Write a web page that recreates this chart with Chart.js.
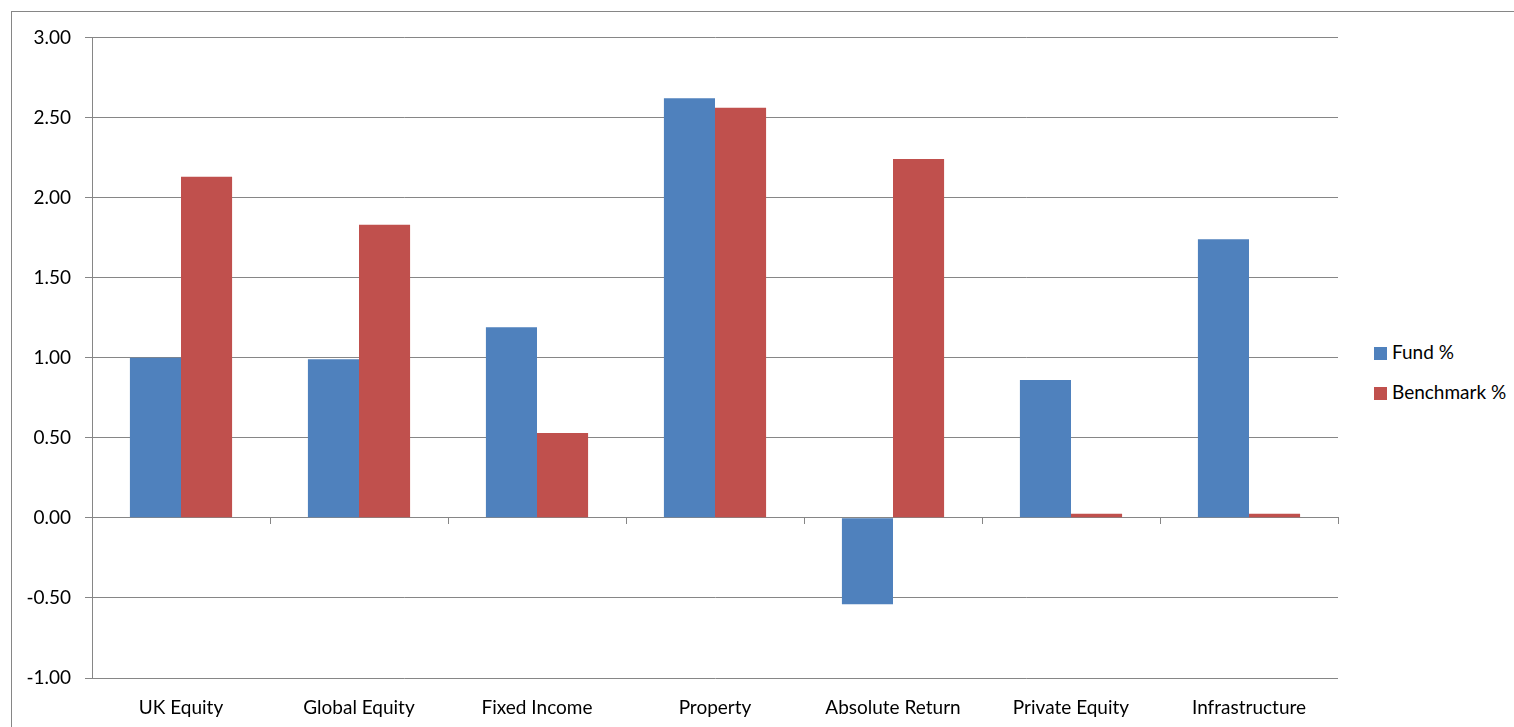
<!DOCTYPE html>
<html>
<head>
<meta charset="utf-8">
<script src="https://cdn.jsdelivr.net/npm/chart.js@4/dist/chart.umd.min.js"></script>
<style>
  html, body { margin: 0; padding: 0; background: #fff; overflow: hidden; }
  body { width: 1514px; height: 727px; position: relative; font-family: Lato, "Open Sans", sans-serif; }
  #frame {
    position: absolute; left: 11px; top: 11px; width: 1520px; height: 740px;
    border: 1px solid #868686; box-sizing: border-box;
  }
  #wrap { position: absolute; left: 12px; top: 12px; width: 1330px; height: 715px; }
  #legend { position: absolute; left: 1374px; top: 339px; font-size: 19px; color: #000; }
  .item { height: 26px; line-height: 26px; margin-bottom: 13.5px; white-space: nowrap; }
  .swatch { display: inline-block; width: 13px; height: 13px; margin-right: 5px; vertical-align: -1px; }
</style>
</head>
<body>
<div id="frame"></div>
<div id="wrap"><canvas id="chart"></canvas></div>
<div id="legend"></div>
<script>
const categories = ["UK Equity", "Global Equity", "Fixed Income", "Property", "Absolute Return", "Private Equity", "Infrastructure"];
const fundValues = [1.00, 0.99, 1.19, 2.62, -0.54, 0.86, 1.74];
const benchmarkValues = [2.13, 1.83, 0.53, 2.56, 2.24, 0.025, 0.025];
const seriesNames = ["Fund %", "Benchmark %"];
const seriesColors = ["#4F81BD", "#C0504D"];

const GRID = "#868686";
const FONT = { family: "Lato, 'Open Sans', sans-serif", size: 19 };

const datasets = [fundValues, benchmarkValues].map((vals, i) => ({
  label: seriesNames[i],
  data: vals,
  backgroundColor: seriesColors[i],
  borderWidth: 0,
  categoryPercentage: 0.574,
  barPercentage: 1.0,
  xAxisID: "x",
}));

const legendEl = document.getElementById("legend");
datasets.forEach((ds) => {
  const row = document.createElement("div");
  row.className = "item";
  row.innerHTML = `<span class="swatch" style="background:${ds.backgroundColor}"></span>${ds.label}`;
  legendEl.appendChild(row);
});

const ctx = document.getElementById("chart").getContext("2d");
new Chart(ctx, {
  type: "bar",
  data: { labels: categories, datasets },
  options: {
    responsive: true,
    maintainAspectRatio: false,
    animation: false,
    layout: { padding: { top: 19, right: 4, left: 0, bottom: 0 } },
    scales: {
      // axis line at zero with boundary tick marks
      x: {
        type: "category",
        position: { y: 0 },
        offset: true,
        grid: { display: true, drawOnChartArea: false, drawTicks: true, tickLength: 6, color: GRID, offset: true },
        border: { display: true, color: GRID, width: 1 },
        ticks: { display: false },
      },
      // labels along the bottom
      xLabels: {
        type: "category",
        position: "bottom",
        labels: categories,
        offset: true,
        grid: { display: false, drawTicks: false },
        border: { display: false },
        ticks: { color: "#000", font: FONT, padding: 18, maxRotation: 0, autoSkip: false },
        afterFit: (s) => { s.height = 49; },
      },
      y: {
        min: -1,
        max: 3,
        ticks: {
          stepSize: 0.5,
          color: "#000",
          font: FONT,
          padding: 14,
          callback: (v) => Number(v).toFixed(2),
        },
        grid: { color: GRID, lineWidth: 1, tickLength: 7, drawTicks: true },
        border: { display: true, color: GRID, width: 1 },
        afterFit: (s) => { s.width = 80; },
      },
    },
    plugins: {
      legend: { display: false },
      tooltip: { enabled: false },
    },
  },
});
</script>
</body>
</html>
